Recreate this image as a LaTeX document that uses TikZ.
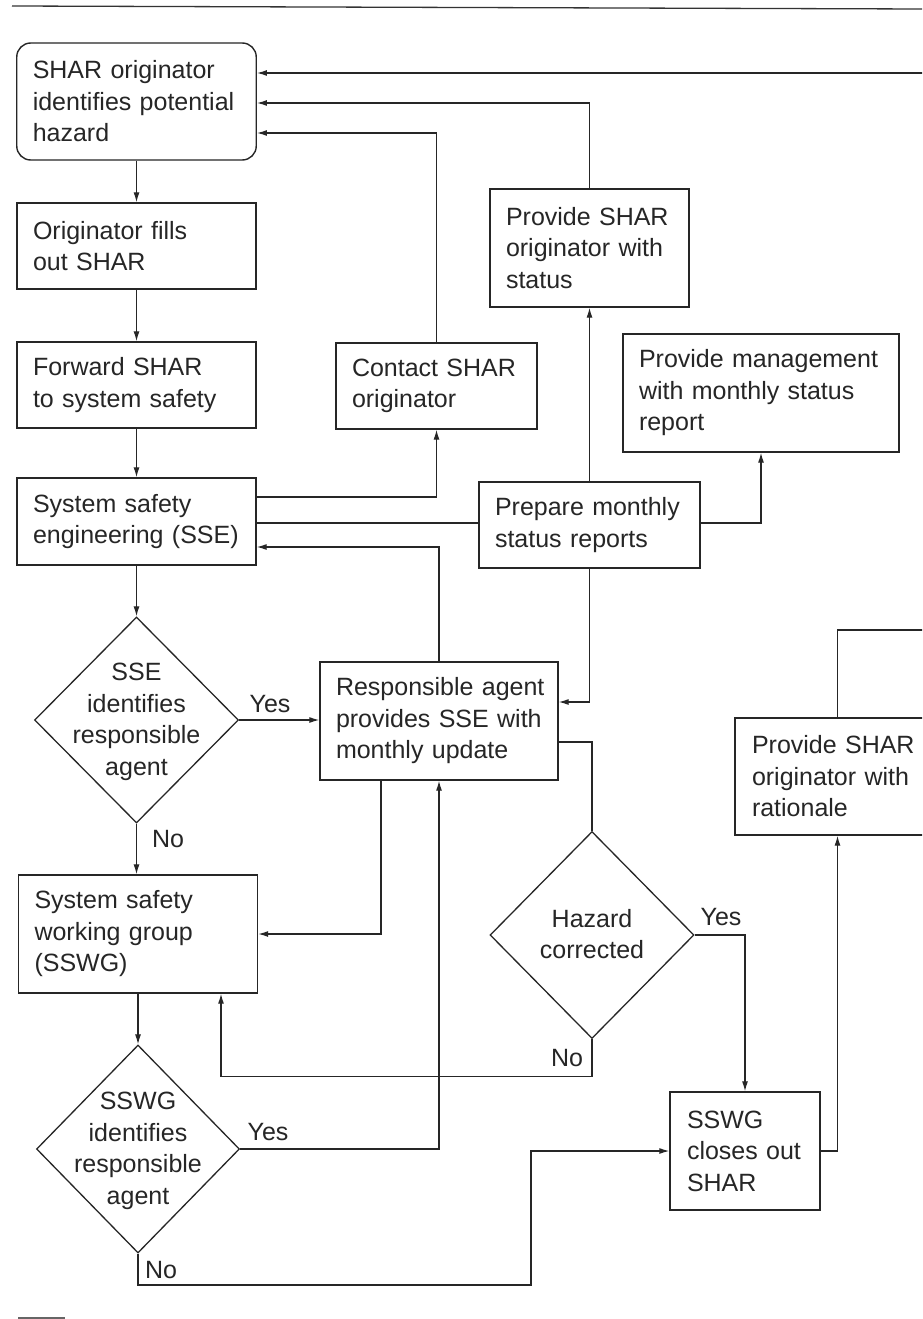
\documentclass[tikz,border=0pt]{standalone}
\usepackage{fontspec}
\setmainfont{Liberation Sans}
\usetikzlibrary{shapes.geometric,arrows.meta,calc}
\begin{document}
\begin{tikzpicture}[x=1pt,y=-1pt,
  font=\fontsize{25}{31.5}\selectfont,
  box/.style={draw=black!85, line width=1.4pt, inner xsep=16pt, inner ysep=0pt, align=left, text=black!85},
  dec/.style={draw=black!85, diamond, line width=1.3pt, inner sep=0pt, minimum width=204pt, minimum height=206pt},
  dtext/.style={align=center, inner sep=0pt, text=black!85},
  arr/.style={draw=black!85, line width=1.2pt, -{Latex[length=10pt,width=6pt]}},
  ln/.style={draw=black!85, line width=1.2pt},
  lab/.style={inner sep=0pt, text=black!85}]
\useasboundingbox (0,0) rectangle (922,1319);
\clip (0,0) rectangle (922,1319);
\fill[white] (0,0) rectangle (922,1319);
% page rule and scan mark
\draw[line width=1.3pt, black!80] (12,6) -- (922,9);
\fill[black!60] (18,1317) rectangle (65,1319);

% boxes
\node[box, rounded corners=14pt, text width=207.5pt, minimum height=117pt] (orig) at (136.5,101.5) {SHAR originator\\identifies potential\\hazard};
\node[box, text width=207pt, minimum height=86pt] (fill) at (136.5,246) {Originator fills\\out SHAR};
\node[box, text width=207pt, minimum height=86pt] (fwd) at (136.5,385) {Forward SHAR\\to system safety};
\node[box, text width=207pt, minimum height=87pt] (sse) at (136.5,521.5) {System safety\\\mbox{engineering (SSE)}};
\node[box, text width=167pt, minimum height=118pt] (status) at (589.5,248) {Provide SHAR\\originator with\\status};
\node[box, text width=169pt, minimum height=86pt] (contact) at (436.5,386) {Contact SHAR\\originator};
\node[box, text width=244pt, minimum height=118pt] (mgmt) at (761,393) {\mbox{Provide management}\\with monthly status\\report};
\node[box, text width=189pt, minimum height=86pt] (prep) at (589.5,525) {Prepare monthly\\status reports};
\node[box, text width=206pt, minimum height=118pt] (ra) at (439,721) {\mbox{Responsible agent}\\provides SSE with\\monthly update};
\node[box, text width=207pt, minimum height=118pt] (sswg) at (138,934) {System safety\\working group\\(SSWG)};
\node[box, text width=116pt, inner xsep=17pt, minimum height=118pt] (close) at (745,1151) {SSWG\\closes out\\SHAR};
\node[box, text width=171pt, inner xsep=17pt, minimum height=117pt] (rat) at (837.5,776.5) {Provide SHAR\\originator with\\rationale};

% decisions
\node[dec] (d1) at (136.5,720) {};
\node[dtext] (d1t) at (136.5,722) {SSE\\identifies\\responsible\\agent};
\node[dec, minimum height=207pt] (dh) at (592,935) {};
\node[dtext] (dht) at (592,934) {Hazard\\corrected};
\node[dec, minimum width=203pt, minimum height=208pt] (d2) at (138,1149) {};
\node[dtext] (d2t) at (138,1151) {SSWG\\identifies\\responsible\\agent};

% labels
\node[lab] (y1) at (270,704) {Yes};
\node[lab] (n1) at (168,839) {No};
\node[lab] (y2) at (721,917) {Yes};
\node[lab] (n2) at (567,1058) {No};
\node[lab] (y3) at (268,1132) {Yes};
\node[lab] (n3) at (161,1270) {No};

% helper coordinates
\coordinate (loopA) at (960,630);
\coordinate (loopB) at (960,73);
\coordinate (j1) at (531,1285);

% connectors
\draw[arr] (orig.south) -- (fill.north);
\draw[arr] (fill.south) -- (fwd.north);
\draw[arr] (fwd.south) -- (sse.north);
\draw[arr] (sse.south) -- (d1.north);
\draw[arr] (d1.east) -- (d1.east -| ra.west);
\draw[arr] (d1.south) -- (d1.south |- sswg.north);
\draw[arr] (sswg.south) -- (sswg.south |- d2.north);
\draw[arr] (d2.east) -| (ra.south);
\draw[arr] ($(ra.south)+(-58,0)$) |- (sswg.east);
\draw[arr] (ra.north) |- ($(sse.east)+(0,25.5)$);
\draw[arr] ($(sse.east)+(0,-24.5)$) -| (contact.south);
\draw[ln] ($(sse.east)+(0,1.5)$) -- ($(prep.west)+(0,-2)$);
\draw[arr] (contact.north) |- ($(orig.east)+(0,31.5)$);
\draw[arr] (status.north) |- ($(orig.east)+(0,1.5)$);
\draw[arr] (prep.north) -- (status.south);
\draw[arr] ($(prep.east)+(0,-2)$) -| (mgmt.south);
\draw[arr] (prep.south) |- ($(ra.east)+(0,-19)$);
\draw[ln] ($(ra.east)+(0,21)$) -| (dh.north);
\draw[arr] (dh.east) -| (close.north);
\draw[arr] (dh.south) -- ++(0,37) -| ($(sswg.south)+(83,0)$);
\draw[arr] (d2.south) |- (j1) |- (close.west);
\draw[arr] (close.east) -| (rat.south);
\draw[arr] (rat.north) |- (loopA) -- (loopB) -- (orig.east |- loopB);
\end{tikzpicture}
\end{document}
